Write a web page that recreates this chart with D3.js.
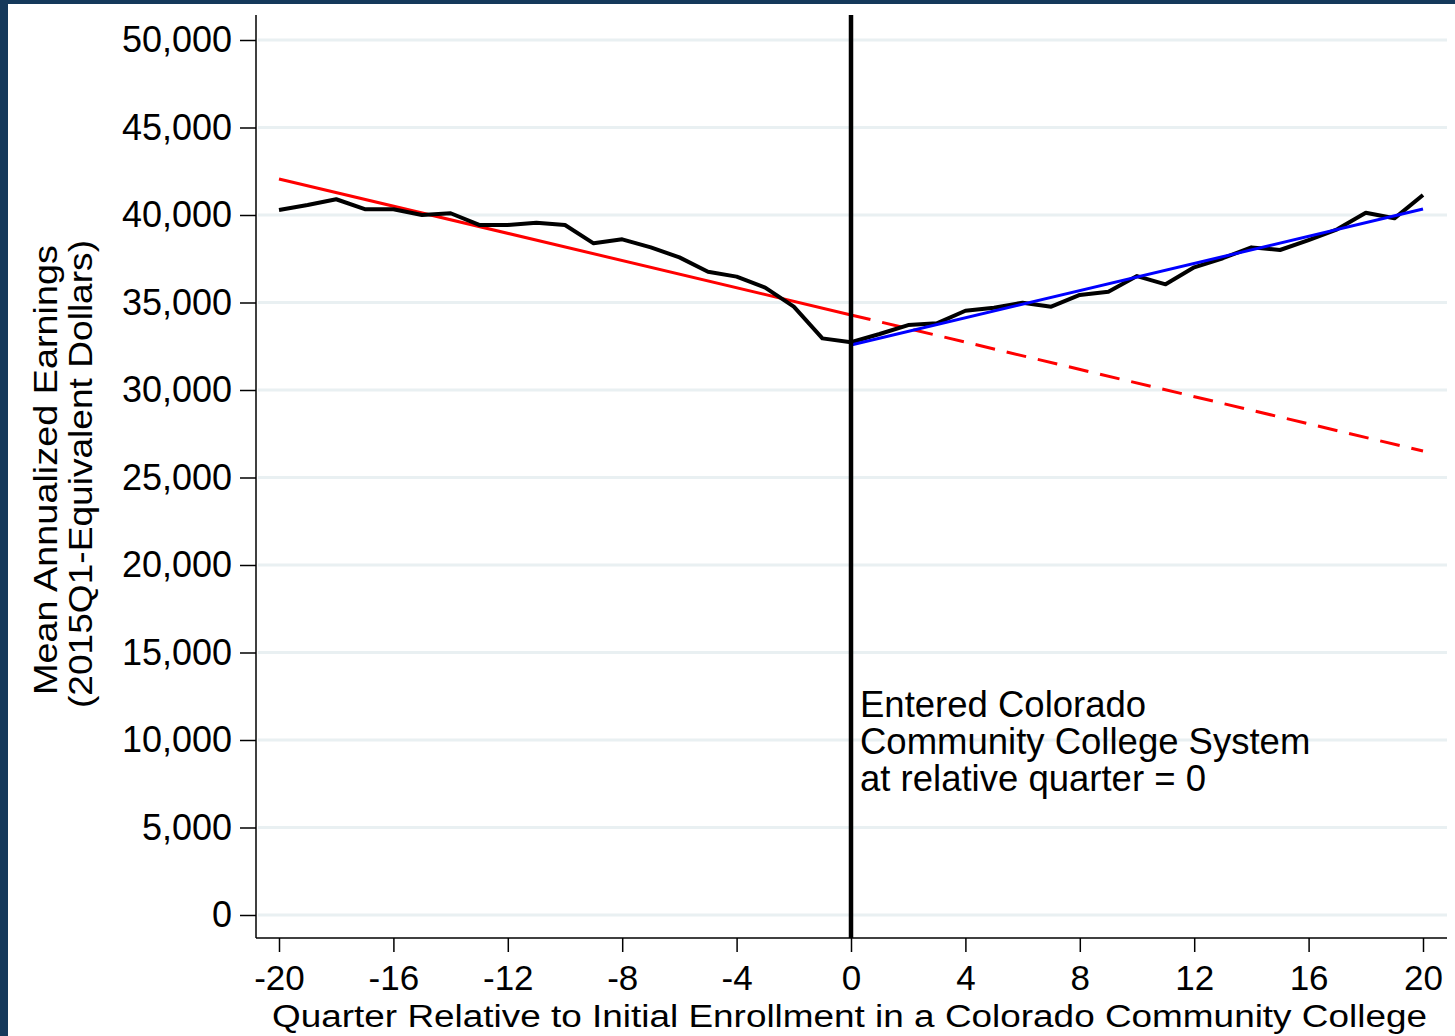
<!DOCTYPE html>
<html lang="en">
<head>
	<meta charset="UTF-8">
	<title>Earnings around enrollment</title>
	<script src="https://cdn.jsdelivr.net/npm/d3@7"></script>
	<style>
		html,body{margin:0;padding:0;background:#15395b;}
		svg{display:block;}
		text{font-family:"Liberation Sans",Arial,sans-serif;fill:#000;}
		.grid line{stroke:#e9f0f2;stroke-width:3;}
		.axis path,.axis line{stroke:#000;stroke-width:1.5;}
	</style>
</head>
<body>
	<svg id="svg" width="1455" height="1036"></svg>
	<script>
		// quarters relative to first enrollment
		var quarters = d3.range(-20,21);
		// mean annualized earnings
		var earnings = [
			40290,40570,40900,40330,40330,40000,40100,39430,39430,39560,
			39430,38380,38610,38150,37580,36760,36480,35850,34760,32950,
			32730,33200,33710,33810,34530,34700,34990,34760,35430,35620,
			36510,36040,37010,37530,38150,38000,38570,39180,40130,39810,
			41140
		];
		// pre-enrollment linear trend and its projection
		var preTrend = [{q:-20,v:42060},{q:0,v:34290}];
		var projTrend = [{q:0,v:34290},{q:20,v:26510}];
		// post-enrollment linear trend
		var postTrend = [{q:0,v:32570},{q:20,v:40340}];

		var yTicks = [0,5000,10000,15000,20000,25000,30000,35000,40000,45000,50000];
		var xTicks = [-20,-16,-12,-8,-4,0,4,8,12,16,20];
		var noteLines = ["Entered Colorado","Community College System","at relative quarter = 0"];

		var svg = d3.select("#svg");
		var W = 1455, H = 1036;

		svg.append("rect").attr("width",W).attr("height",H).attr("fill","#15395b");
		svg.append("rect").attr("x",8).attr("y",4).attr("width",W-8).attr("height",H-4).attr("fill","#fff");

		var pLeft = 256, pRight = 1447, pTop = 15, pBottom = 938;

		var x = d3.scaleLinear().domain([-20,20]).range([279,1423]);
		var y = d3.scaleLinear().domain([0,50000]).range([915,40]);

		// gridlines
		svg.append("g").attr("class","grid")
			.selectAll("line").data(yTicks).enter().append("line")
			.attr("x1",pLeft+2).attr("x2",pRight)
			.attr("y1",d=>y(d)).attr("y2",d=>y(d));

		// y axis
		var yAxis = svg.append("g").attr("class","axis")
			.attr("transform","translate("+pLeft+",0)")
			.call(d3.axisLeft(y).tickValues(yTicks).tickSize(16).tickPadding(8)
				.tickFormat(d3.format(",")));
		yAxis.select(".domain").attr("d","M0,"+pTop+"V"+pBottom);
		yAxis.selectAll("text").attr("font-size",36).style("font-family",null);

		// x axis
		var xAxis = svg.append("g").attr("class","axis")
			.attr("transform","translate(0,"+pBottom+")")
			.call(d3.axisBottom(x).tickValues(xTicks).tickSize(14).tickPadding(13)
				.tickFormat(d=>String(d)));
		xAxis.select(".domain").attr("d","M"+pLeft+",0H"+pRight);
		xAxis.selectAll("text").attr("font-size",35).style("font-family",null)
			.attr("dy","0.71em");

		var line = d3.line().x(d=>x(d.q)).y(d=>y(d.v));

		// trends
		svg.append("path").datum(preTrend).attr("d",line)
			.attr("fill","none").attr("stroke","#ff0000").attr("stroke-width",3);
		svg.append("path").datum(projTrend).attr("d",line)
			.attr("fill","none").attr("stroke","#ff0000").attr("stroke-width",3)
			.attr("stroke-dasharray","20,12");

		// mean earnings
		var pts = quarters.map((q,i)=>({q:q,v:earnings[i]}));
		svg.append("path").datum(pts).attr("d",line)
			.attr("fill","none").attr("stroke","#000").attr("stroke-width",4)
			.attr("stroke-linejoin","round");

		svg.append("path").datum(postTrend).attr("d",line)
			.attr("fill","none").attr("stroke","#0000ff").attr("stroke-width",3);

		// enrollment marker
		svg.append("line")
			.attr("x1",x(0)).attr("x2",x(0))
			.attr("y1",pTop).attr("y2",pBottom)
			.attr("stroke","#000").attr("stroke-width",4.5);

		svg.append("g").selectAll("text").data(noteLines).enter().append("text")
			.attr("x",x(0)+9)
			.attr("y",(d,i)=>717+i*37)
			.attr("font-size",36.5)
			.text(d=>d);

		// axis titles
		svg.append("text")
			.attr("x",(272+1427)/2).attr("y",1027)
			.attr("text-anchor","middle").attr("font-size",31)
			.attr("textLength",1155).attr("lengthAdjust","spacingAndGlyphs")
			.text("Quarter Relative to Initial Enrollment in a Colorado Community College");

		svg.append("text")
			.attr("transform","translate(57,470) rotate(-90)")
			.attr("text-anchor","middle").attr("font-size",34)
			.attr("textLength",450).attr("lengthAdjust","spacingAndGlyphs")
			.text("Mean Annualized Earnings");
		svg.append("text")
			.attr("transform","translate(92,474) rotate(-90)")
			.attr("text-anchor","middle").attr("font-size",34)
			.attr("textLength",468).attr("lengthAdjust","spacingAndGlyphs")
			.text("(2015Q1-Equivalent Dollars)");
	</script>
</body>
</html>
